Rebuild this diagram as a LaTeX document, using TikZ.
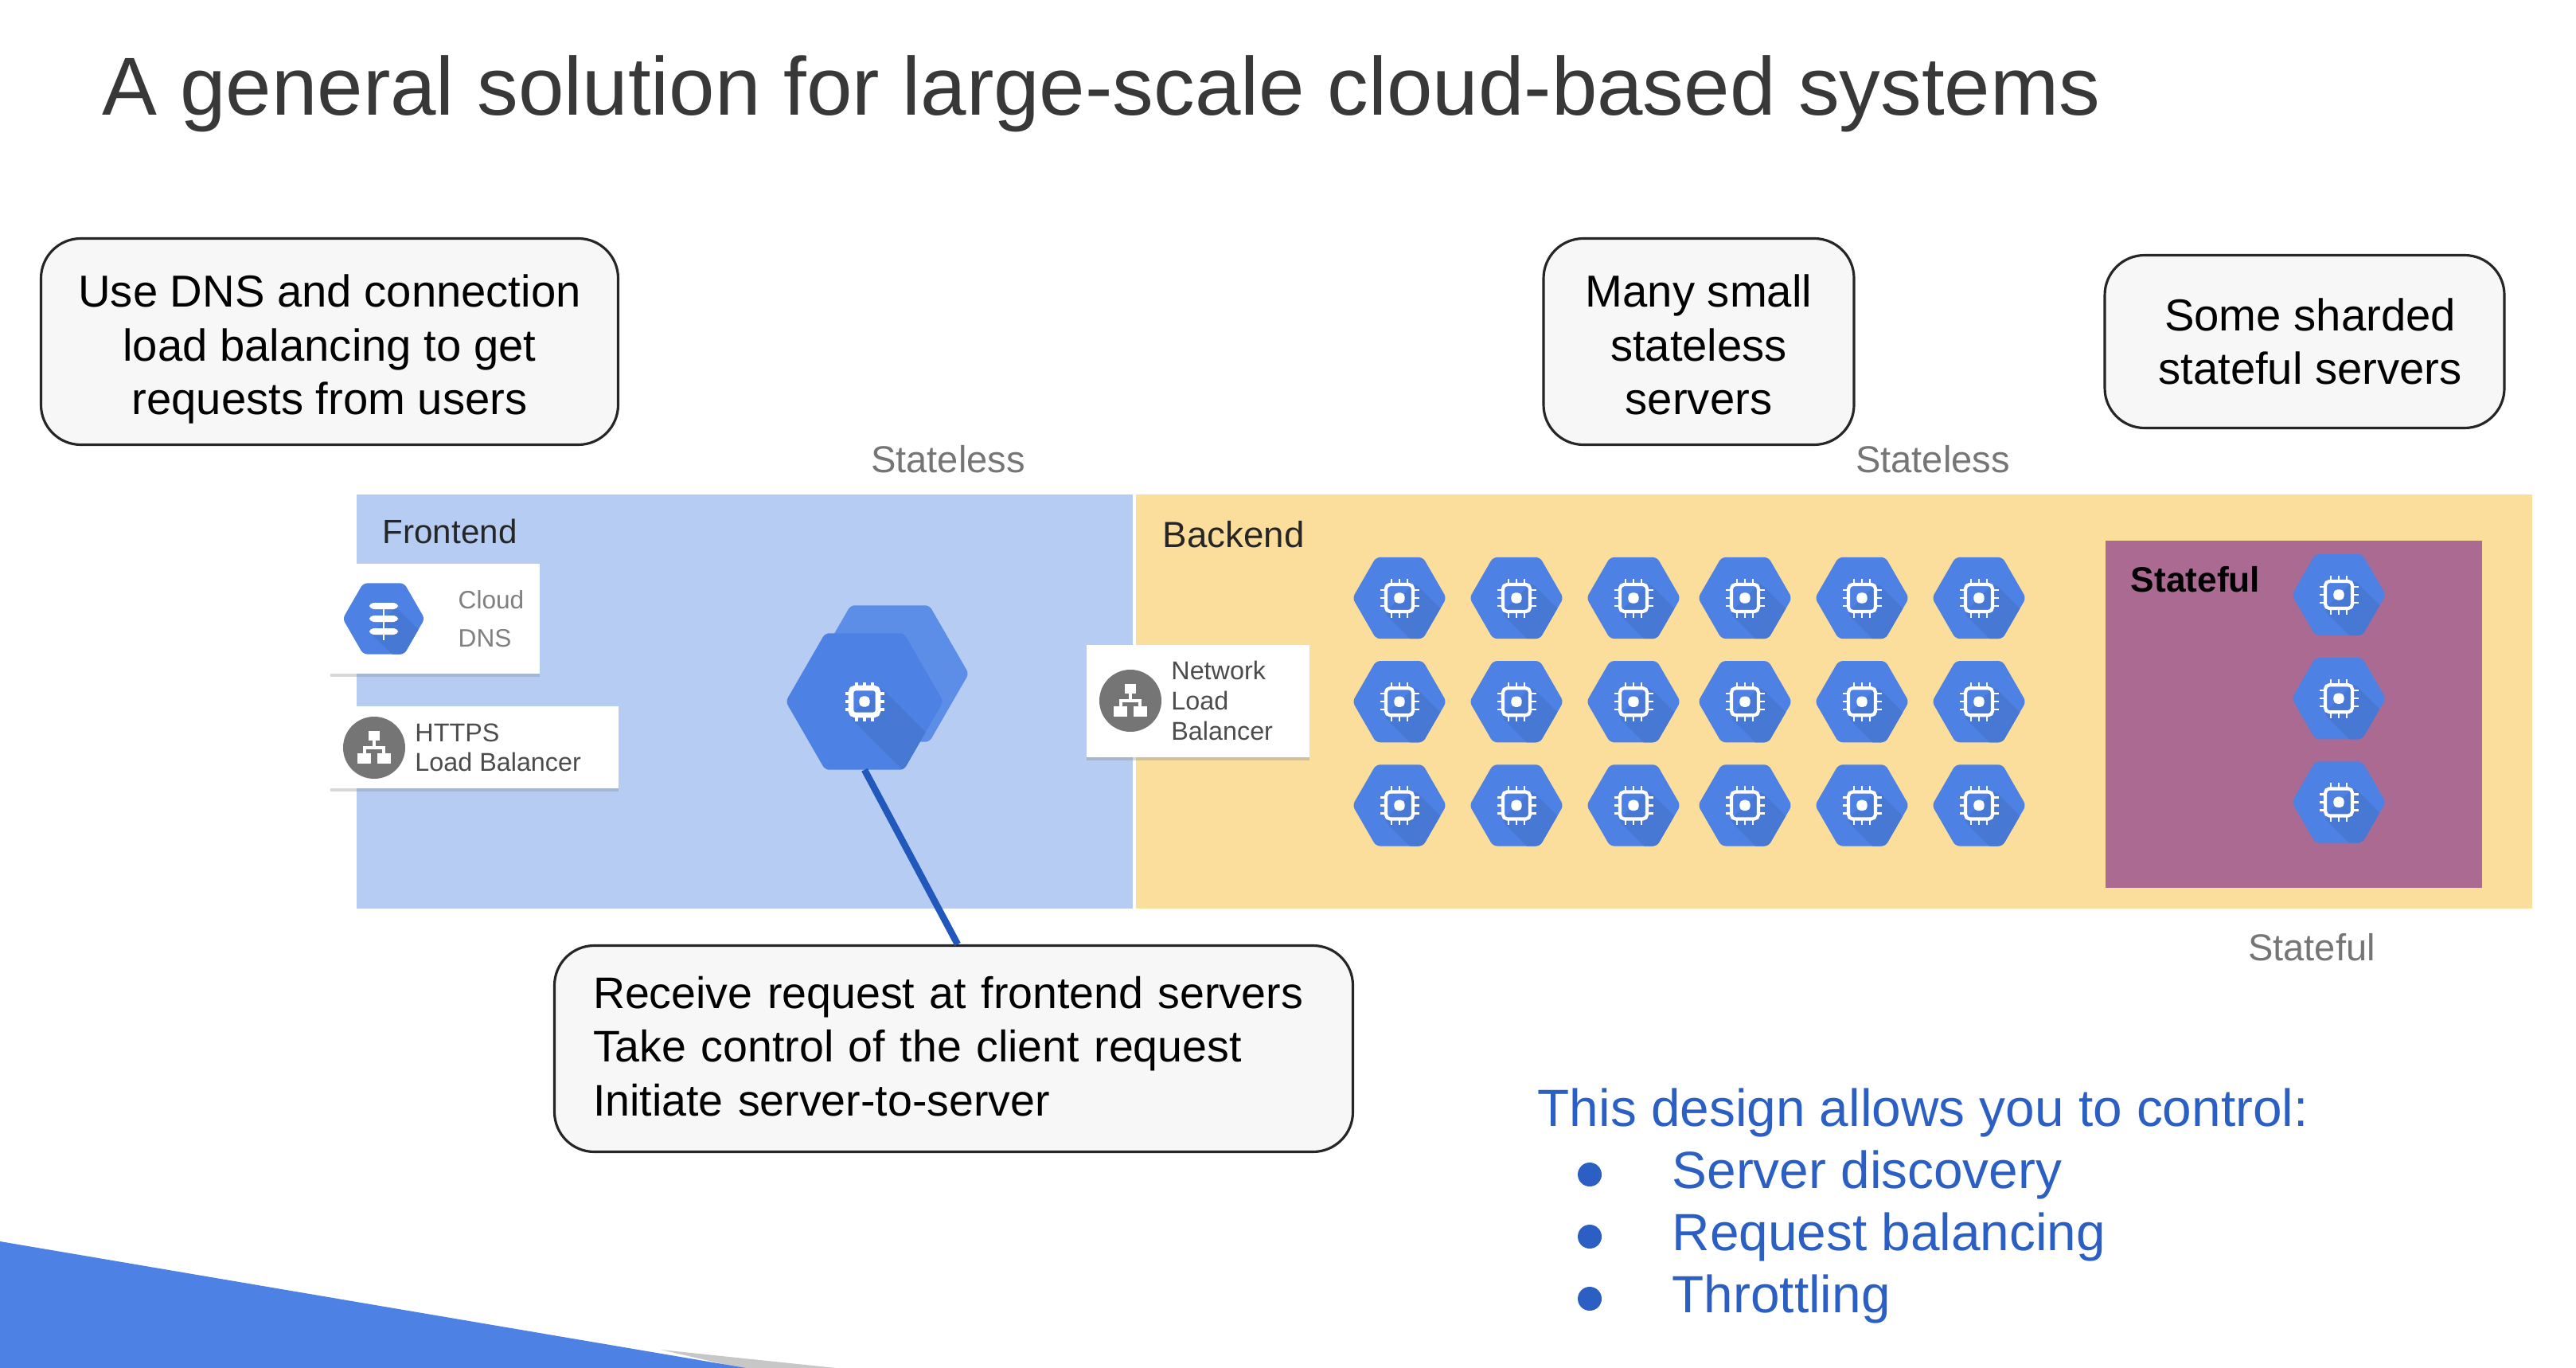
\documentclass[tikz,border=0pt]{standalone}
\usepackage{fontspec}
\setmainfont{Liberation Sans}
\usetikzlibrary{arrows.meta,positioning,shapes.geometric,shadows}

\definecolor{hexblue}{HTML}{4D81E4}
\definecolor{hexdark}{HTML}{4778D4}
\definecolor{hexback}{HTML}{5C8EE8}
\definecolor{frontbg}{HTML}{B7CCF3}
\definecolor{backbg}{HTML}{FBDD9C}
\definecolor{statebg}{HTML}{AB6A92}
\definecolor{listblue}{HTML}{2B5FC4}
\definecolor{linkblue}{HTML}{2058BC}
\definecolor{lbgray}{HTML}{757575}

\begin{document}
\begin{tikzpicture}[
  node distance=2.8mm and 2.9mm,
  note/.style={rounded corners=5mm, draw=black!85, line width=0.9pt, fill=black!3, align=center,
    minimum height=2.59cm, inner sep=0pt, font=\fontsize{16}{19.2}\selectfont},
  zone/.style={anchor=north west, inner sep=0pt},
  zonelabel/.style={inner sep=0pt, anchor=west, text=black!85},
  tag/.style={inner sep=0pt, text=lbgray, font=\fontsize{13.4}{16}\selectfont},
  card/.style={fill=white, anchor=north west, inner sep=0pt, drop shadow={shadow xshift=0pt, shadow yshift=-1.2pt, opacity=.3}},
  cardtext/.style={inner sep=0pt, align=left, text=black!70, font=\fontsize{9.2}{10.7}\selectfont},
  chip/.style={path picture={
    \begin{scope}[shift={(path picture bounding box.center)}, scale=#1]
      \fill[hexdark] (.19,.19) -- (1.2,-.82) -- (.82,-1.2) -- (-.19,-.19) -- cycle;
      \draw[white, line width=#1*1.2pt] (-.17,-.17) rectangle (.17,.17);
      \fill[white] (-.067,-.067) rectangle (.067,.067);
      \foreach \p in {-.1,0,.1} {
        \draw[white, line width=#1*.7pt] (\p,.17) -- (\p,.245) (\p,-.17) -- (\p,-.245)
          (.17,\p) -- (.245,\p) (-.17,\p) -- (-.245,\p);
      }
    \end{scope}}},
  hexbase/.style={regular polygon, regular polygon sides=6, fill=hexblue, rounded corners=1.5pt, inner sep=0pt, outer sep=0pt},
  server/.style={hexbase, minimum size=1.18cm, chip=1},
  balancer/.style={circle, fill=lbgray, minimum size=.78cm, inner sep=0pt, path picture={
    \begin{scope}[shift={(path picture bounding box.center)}]
      \fill[white] (-.07,.09) rectangle (.07,.21);
      \fill[white] (-.21,-.2) rectangle (-.04,-.07);
      \fill[white] (.04,-.2) rectangle (.21,-.07);
      \draw[white, line width=.9pt] (0,.09) -- (0,0) (-.12,-.07) -- (-.12,0) -- (.12,0) -- (.12,-.07);
    \end{scope}}},
  listitem/.style={inner sep=0pt, anchor=west, text=listblue, font=\fontsize{18.7}{22}\selectfont},
  listdot/.style={circle, fill=listblue, minimum size=.3cm, inner sep=0pt}
]
\useasboundingbox (0,0) rectangle (32.36,-17.18);

% corner wedge
\fill[black!22] (8.3,-16.95) -- (10.5,-17.18) -- (9.3,-17.18) -- cycle;
\fill[hexblue] (0,-15.59) -- (9.37,-17.18) -- (0,-17.18) -- cycle;

% title
\node[inner sep=0pt, anchor=west, text=black!78, font=\fontsize{29.4}{36}\selectfont] (title) at (1.28,-1.18)
{A general solution for large-scale cloud-based systems};

% zones
\node[zone, fill=frontbg, minimum width=9.75cm, minimum height=5.2cm] (front) at (4.47,-6.20) {};
\node[zone, fill=backbg, minimum width=17.54cm, minimum height=5.2cm] (back) at (14.26,-6.20) {};
\node[zone, fill=statebg, minimum width=4.73cm, minimum height=4.36cm] (state) at (26.44,-6.78) {};
\node[zonelabel, font=\fontsize{12}{14}\selectfont] (frontlbl) at (4.80,-6.67) {Frontend};
\node[zonelabel, font=\fontsize{13}{15}\selectfont] (backlbl) at (14.60,-6.71) {Backend};
\node[zonelabel, text=black, font=\bfseries\fontsize{12.6}{14}\selectfont] (statelbl) at (26.76,-7.28) {Stateful};

% notes on top
\node[note, minimum width=7.25cm] (dnsnote) at (4.14,-4.29)
{\rule{0pt}{17pt}Use DNS and connection\\load balancing to get\\requests from users};
\node[note, minimum width=3.9cm] (manynote) at (21.34,-4.29)
{\rule{0pt}{14pt}Many small\\stateless\\servers};
\node[note, minimum width=5.02cm, minimum height=2.17cm] (shardnote) at (28.95,-4.29)
{\hspace*{.14cm}Some sharded\\\hspace*{.14cm}stateful servers};

% tags
\node[tag] (tagfront) at (11.91,-5.77) {Stateless};
\node[tag] (tagback) at (24.28,-5.77) {Stateless};
\node[tag] (tagstate) at (29.04,-11.90) {Stateful};

% cloud dns card
\node[card, minimum width=2.63cm, minimum height=1.38cm] (dnscard) at (4.14,-7.07) {};
\node[hexbase, minimum size=1.03cm, path picture={
    \begin{scope}[shift={(path picture bounding box.center)}]
      \fill[hexdark] (.15,.15) -- (1,-.7) -- (.7,-1) -- (-.15,-.2) -- cycle;
      \fill[white] (-.18,.12) rectangle (.18,.2) (-.18,-.04) rectangle (.18,.04) (-.18,-.2) rectangle (.18,-.12);
      \draw[white, line width=.6pt] (0,.2) -- (0,-.27);
    \end{scope}}] (dnsicon) at (4.82,-7.77) {};
\node[cardtext, text=black!50, anchor=west, font=\fontsize{9}{13.5}\selectfont] (dnstext) at (5.75,-7.77) {Cloud\\DNS};

% https card
\node[card, minimum width=3.62cm, minimum height=1.03cm] (httpscard) at (4.14,-8.86) {};
\node[balancer] (httpsicon) at (4.70,-9.39) {};
\node[cardtext, right=1.1mm of httpsicon] (httpstext) {HTTPS\\Load Balancer};

% network card
\node[card, minimum width=2.8cm, minimum height=1.41cm] (netcard) at (13.64,-8.09) {};
\node[balancer] (neticon) at (14.20,-8.80) {};
\node[cardtext, right=1.1mm of neticon] (nettext) {Network\\Load\\Balancer};

% frontend servers
\node[hexbase, minimum size=1.98cm, fill=hexback] (mainback) at (11.18,-8.46) {};
\node[hexbase, minimum size=1.98cm, chip=1.6] (mainhex) at (10.86,-8.81) {};

% backend servers
\node[server] (s11) at (17.58,-7.51) {};
\node[server, right=of s11] (s12) {};
\node[server, right=of s12] (s13) {};
\node[server, right=2.2mm of s13] (s14) {};
\node[server, right=of s14] (s15) {};
\node[server, right=of s15] (s16) {};
\node[server, below=of s11] (s21) {};
\node[server, below=of s12] (s22) {};
\node[server, below=of s13] (s23) {};
\node[server, below=of s14] (s24) {};
\node[server, below=of s15] (s25) {};
\node[server, below=of s16] (s26) {};
\node[server, below=of s21] (s31) {};
\node[server, below=of s22] (s32) {};
\node[server, below=of s23] (s33) {};
\node[server, below=of s24] (s34) {};
\node[server, below=of s25] (s35) {};
\node[server, below=of s26] (s36) {};

% stateful servers
\node[server] (db1) at (29.38,-7.47) {};
\node[server, below=of db1] (db2) {};
\node[server, below=of db2] (db3) {};

% request note and its link
\node[note, minimum width=10.03cm, align=left, text width=9.06cm, font=\fontsize{15.8}{19.2}\selectfont] (recvnote) at (11.98,-13.17)
{Receive request at frontend servers\\Take control of the client request\\Initiate server-to-server\rule[-2pt]{0pt}{0pt}};
\draw[linkblue, line width=2.4pt] (mainhex.south) -- ([xshift=.05cm]recvnote.north);

% control list
\node[listitem] (listhead) at (19.31,-13.97) {This design allows you to control:};
\node[listitem] (item1) at (21.0,-14.75) {Server discovery};
\node[listitem] (item2) at (21.0,-15.53) {Request balancing};
\node[listitem] (item3) at (21.0,-16.31) {Throttling};
\node[listdot] (dot1) at (19.97,-14.75) {};
\node[listdot] (dot2) at (19.97,-15.53) {};
\node[listdot] (dot3) at (19.97,-16.31) {};
\end{tikzpicture}
\end{document}
